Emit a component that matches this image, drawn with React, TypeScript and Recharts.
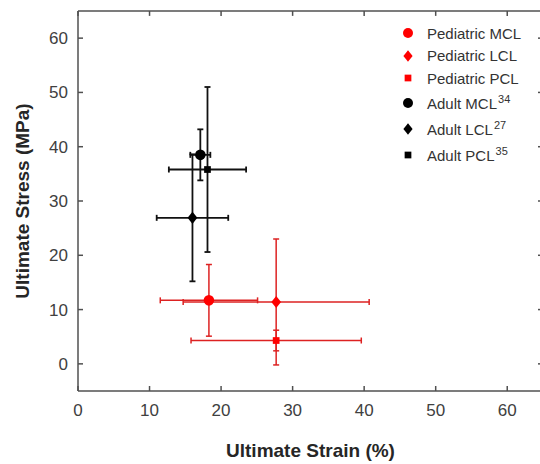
import { ScatterChart, Scatter, XAxis, YAxis, ErrorBar, Legend, ReferenceLine } from "recharts";

// ligament groups
const groups = ["Pediatric MCL", "Pediatric LCL", "Pediatric PCL", "Adult MCL", "Adult LCL", "Adult PCL"];
const refs = ["", "", "", "34", "27", "35"];
const shapes = ["circle", "diamond", "square", "circle", "diamond", "square"];
const colors = ["#ff0000", "#ff0000", "#ff0000", "#000000", "#000000", "#000000"];

// mean ultimate strain (%) and ultimate stress (MPa) with +/- SD
const strain = [18.3, 27.7, 27.7, 17.1, 16.0, 18.1];
const strainSd = [6.8, 13.0, 11.9, 1.4, 5.0, 5.4];
const stress = [11.7, 11.4, 4.3, 38.5, 26.9, 35.8];
const stressSd = [6.6, 11.6, 1.9, 4.7, 11.7, 15.2];

const xTicks = [0, 10, 20, 30, 40, 50, 60];
const yTicks = [0, 10, 20, 30, 40, 50, 60];
const xMax = 65;
const yMin = -5;
const yMax = 65;

const FONT = "'Liberation Sans', Arial, sans-serif";
const AXIS = "#505050";

function marker(kind: string, color: string, cx: number, cy: number, s: number) {
  if (kind === "circle") return <circle cx={cx} cy={cy} r={s} fill={color} />;
  if (kind === "square")
    return <rect x={cx - s * 0.8} y={cy - s * 0.8} width={s * 1.6} height={s * 1.6} fill={color} />;
  const d = s * 1.15;
  return <polygon points={`${cx},${cy - d} ${cx + d * 0.8},${cy} ${cx},${cy + d} ${cx - d * 0.8},${cy}`} fill={color} />;
}

function LegendBox() {
  return (
    <div style={{ fontFamily: FONT, fontSize: 15, color: "#333", textAlign: "left" }}>
      {groups.map((g, i) => (
        <div key={g} style={{ display: "flex", alignItems: "center", height: refs[i] ? 26 : 22.5 }}>
          <svg width={20} height={20} style={{ marginRight: 9 }}>
            {marker(shapes[i], colors[i], 10, 10, i === 2 || i === 5 ? 4.2 : 5)}
          </svg>
          <span style={{ whiteSpace: "nowrap" }}>
            {g}
            {refs[i] && <sup style={{ fontSize: 11, marginLeft: 1 }}>{refs[i]}</sup>}
          </span>
        </div>
      ))}
    </div>
  );
}

export default function App() {
  return (
    <div style={{ position: "absolute", left: 0, top: 0, width: 540, height: 464, overflow: "hidden", background: "#fff" }}>
      <ScatterChart width={560} height={464} margin={{ top: 11, right: 17, bottom: 0, left: 0 }}>
        <XAxis
          type="number"
          dataKey="x"
          domain={[0, xMax]}
          ticks={xTicks}
          height={73}
          tickSize={-5}
          tickMargin={18}
          stroke={AXIS}
          strokeWidth={1.5}
          tick={{ fill: "#404040", fontSize: 17, fontFamily: FONT }}
          label={{ value: "Ultimate Strain (%)", position: "insideBottom", offset: 7, fill: "#262626", fontSize: 19, fontWeight: "bold", fontFamily: FONT }}
        />
        <YAxis
          type="number"
          dataKey="y"
          domain={[yMin, yMax]}
          ticks={yTicks}
          width={78}
          tickSize={-5}
          tickMargin={15}
          stroke={AXIS}
          strokeWidth={1.5}
          tick={{ fill: "#404040", fontSize: 17, fontFamily: FONT }}
          label={{ value: "Ultimate Stress (MPa)", angle: -90, position: "center", dx: -17, fill: "#262626", fontSize: 19, fontWeight: "bold", fontFamily: FONT }}
        />
        {/* closed box: top and right edges with inward ticks */}
        <ReferenceLine y={yMax} ifOverflow="visible" stroke={AXIS} strokeWidth={1.5} />
        <ReferenceLine x={xMax} ifOverflow="visible" stroke={AXIS} strokeWidth={1.5} />
        {xTicks.map((t) => (
          <ReferenceLine key={"tx" + t} ifOverflow="visible" segment={[{ x: t, y: yMax }, { x: t, y: yMax - 0.9 }]} stroke={AXIS} strokeWidth={1.5} />
        ))}
        {yTicks.map((t) => (
          <ReferenceLine key={"ty" + t} ifOverflow="visible" segment={[{ x: xMax, y: t }, { x: xMax - 0.7, y: t }]} stroke={AXIS} strokeWidth={1.5} />
        ))}
        <Legend
          layout="horizontal"
          verticalAlign="middle"
          align="center"
          content={() => <LegendBox />}
          wrapperStyle={{ left: 398, top: 22, width: 142 }}
        />
        {groups.map((g, i) => (
          <Scatter
            key={g}
            name={g}
            data={[{ x: strain[i], y: stress[i], ex: strainSd[i], ey: stressSd[i] }]}
            fill={colors[i]}
            isAnimationActive={false}
            shape={(p: any) => marker(shapes[i], colors[i], p.cx, p.cy, i === 2 || i === 5 ? 4.2 : 5.3)}
          >
            <ErrorBar dataKey="ex" direction="x" width={3} stroke={i < 3 ? "#dd2222" : "#111"} strokeWidth={i < 3 ? 1.5 : 1.8} isAnimationActive={false} />
            <ErrorBar dataKey="ey" direction="y" width={3} stroke={i < 3 ? "#dd2222" : "#111"} strokeWidth={i < 3 ? 1.5 : 1.8} isAnimationActive={false} />
          </Scatter>
        ))}
      </ScatterChart>
    </div>
  );
}
